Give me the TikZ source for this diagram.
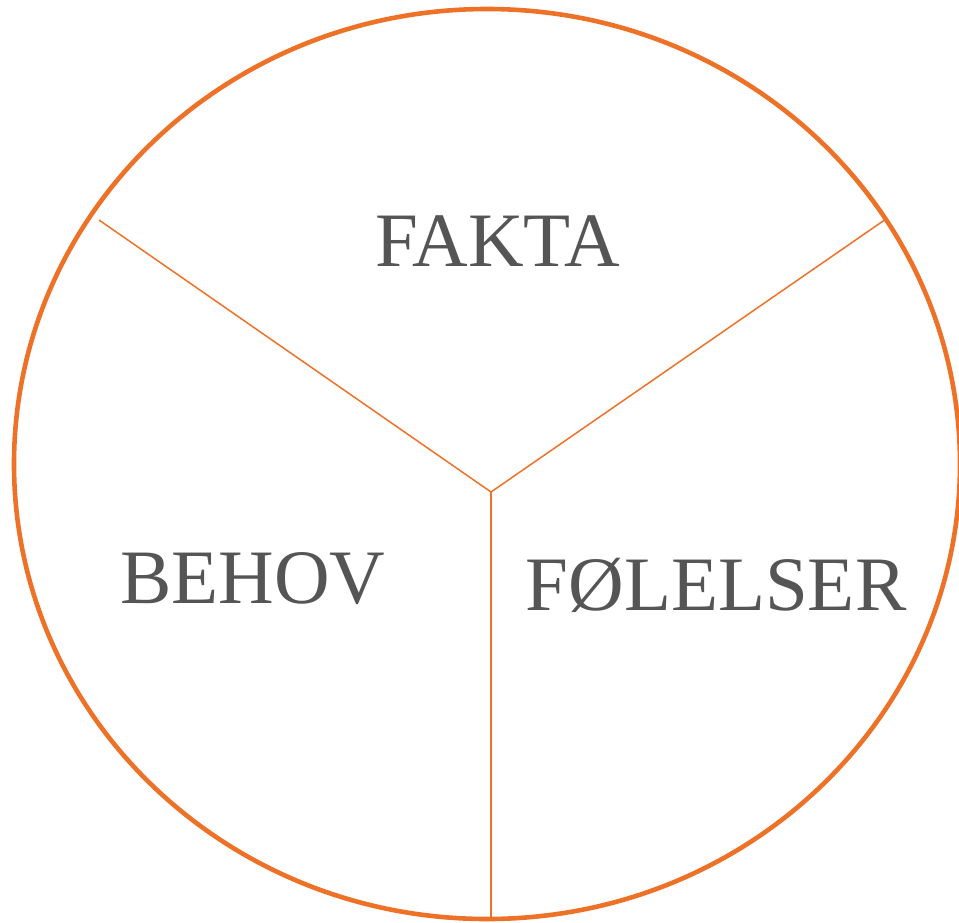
\documentclass[tikz,border=0pt]{standalone}
\usepackage{fontspec}
\setmainfont{Liberation Serif}
\usepackage{tikz}
\definecolor{ringorange}{HTML}{EE7128}
\definecolor{labelgray}{HTML}{555555}

\begin{document}
\begin{tikzpicture}[
		x=1pt, y=-1pt,
		ring/.style={draw=ringorange, line width=4.6pt},
		spoke/.style={draw=ringorange, line width=1.5pt},
		sector/.style={text=labelgray, inner sep=0pt, anchor=base, font=\fontsize{77}{77}\selectfont}
		]
		\useasboundingbox (0,0) rectangle (959,922);
		
		% circle and its three spokes
		\draw[ring] (487,464) ellipse [x radius=473, y radius=455];
		\coordinate (hub) at (491,492);
		\coordinate (lefttop) at (99,220);
		\coordinate (righttop) at (886,219);
		\coordinate (bottom) at (491,918);
		\draw[spoke] (hub) -- (lefttop);
		\draw[spoke] (hub) -- (righttop);
		\draw[spoke] (hub) -- (bottom);
		
		% sector labels
		\node[sector] (fakta) at (498,266) {FAKTA};
		\node[sector] (behov) at (253,603) {BEHOV};
		\node[sector] (folelser) at (716,610) {FØLELSER};
		
	\end{tikzpicture}
\end{document}
